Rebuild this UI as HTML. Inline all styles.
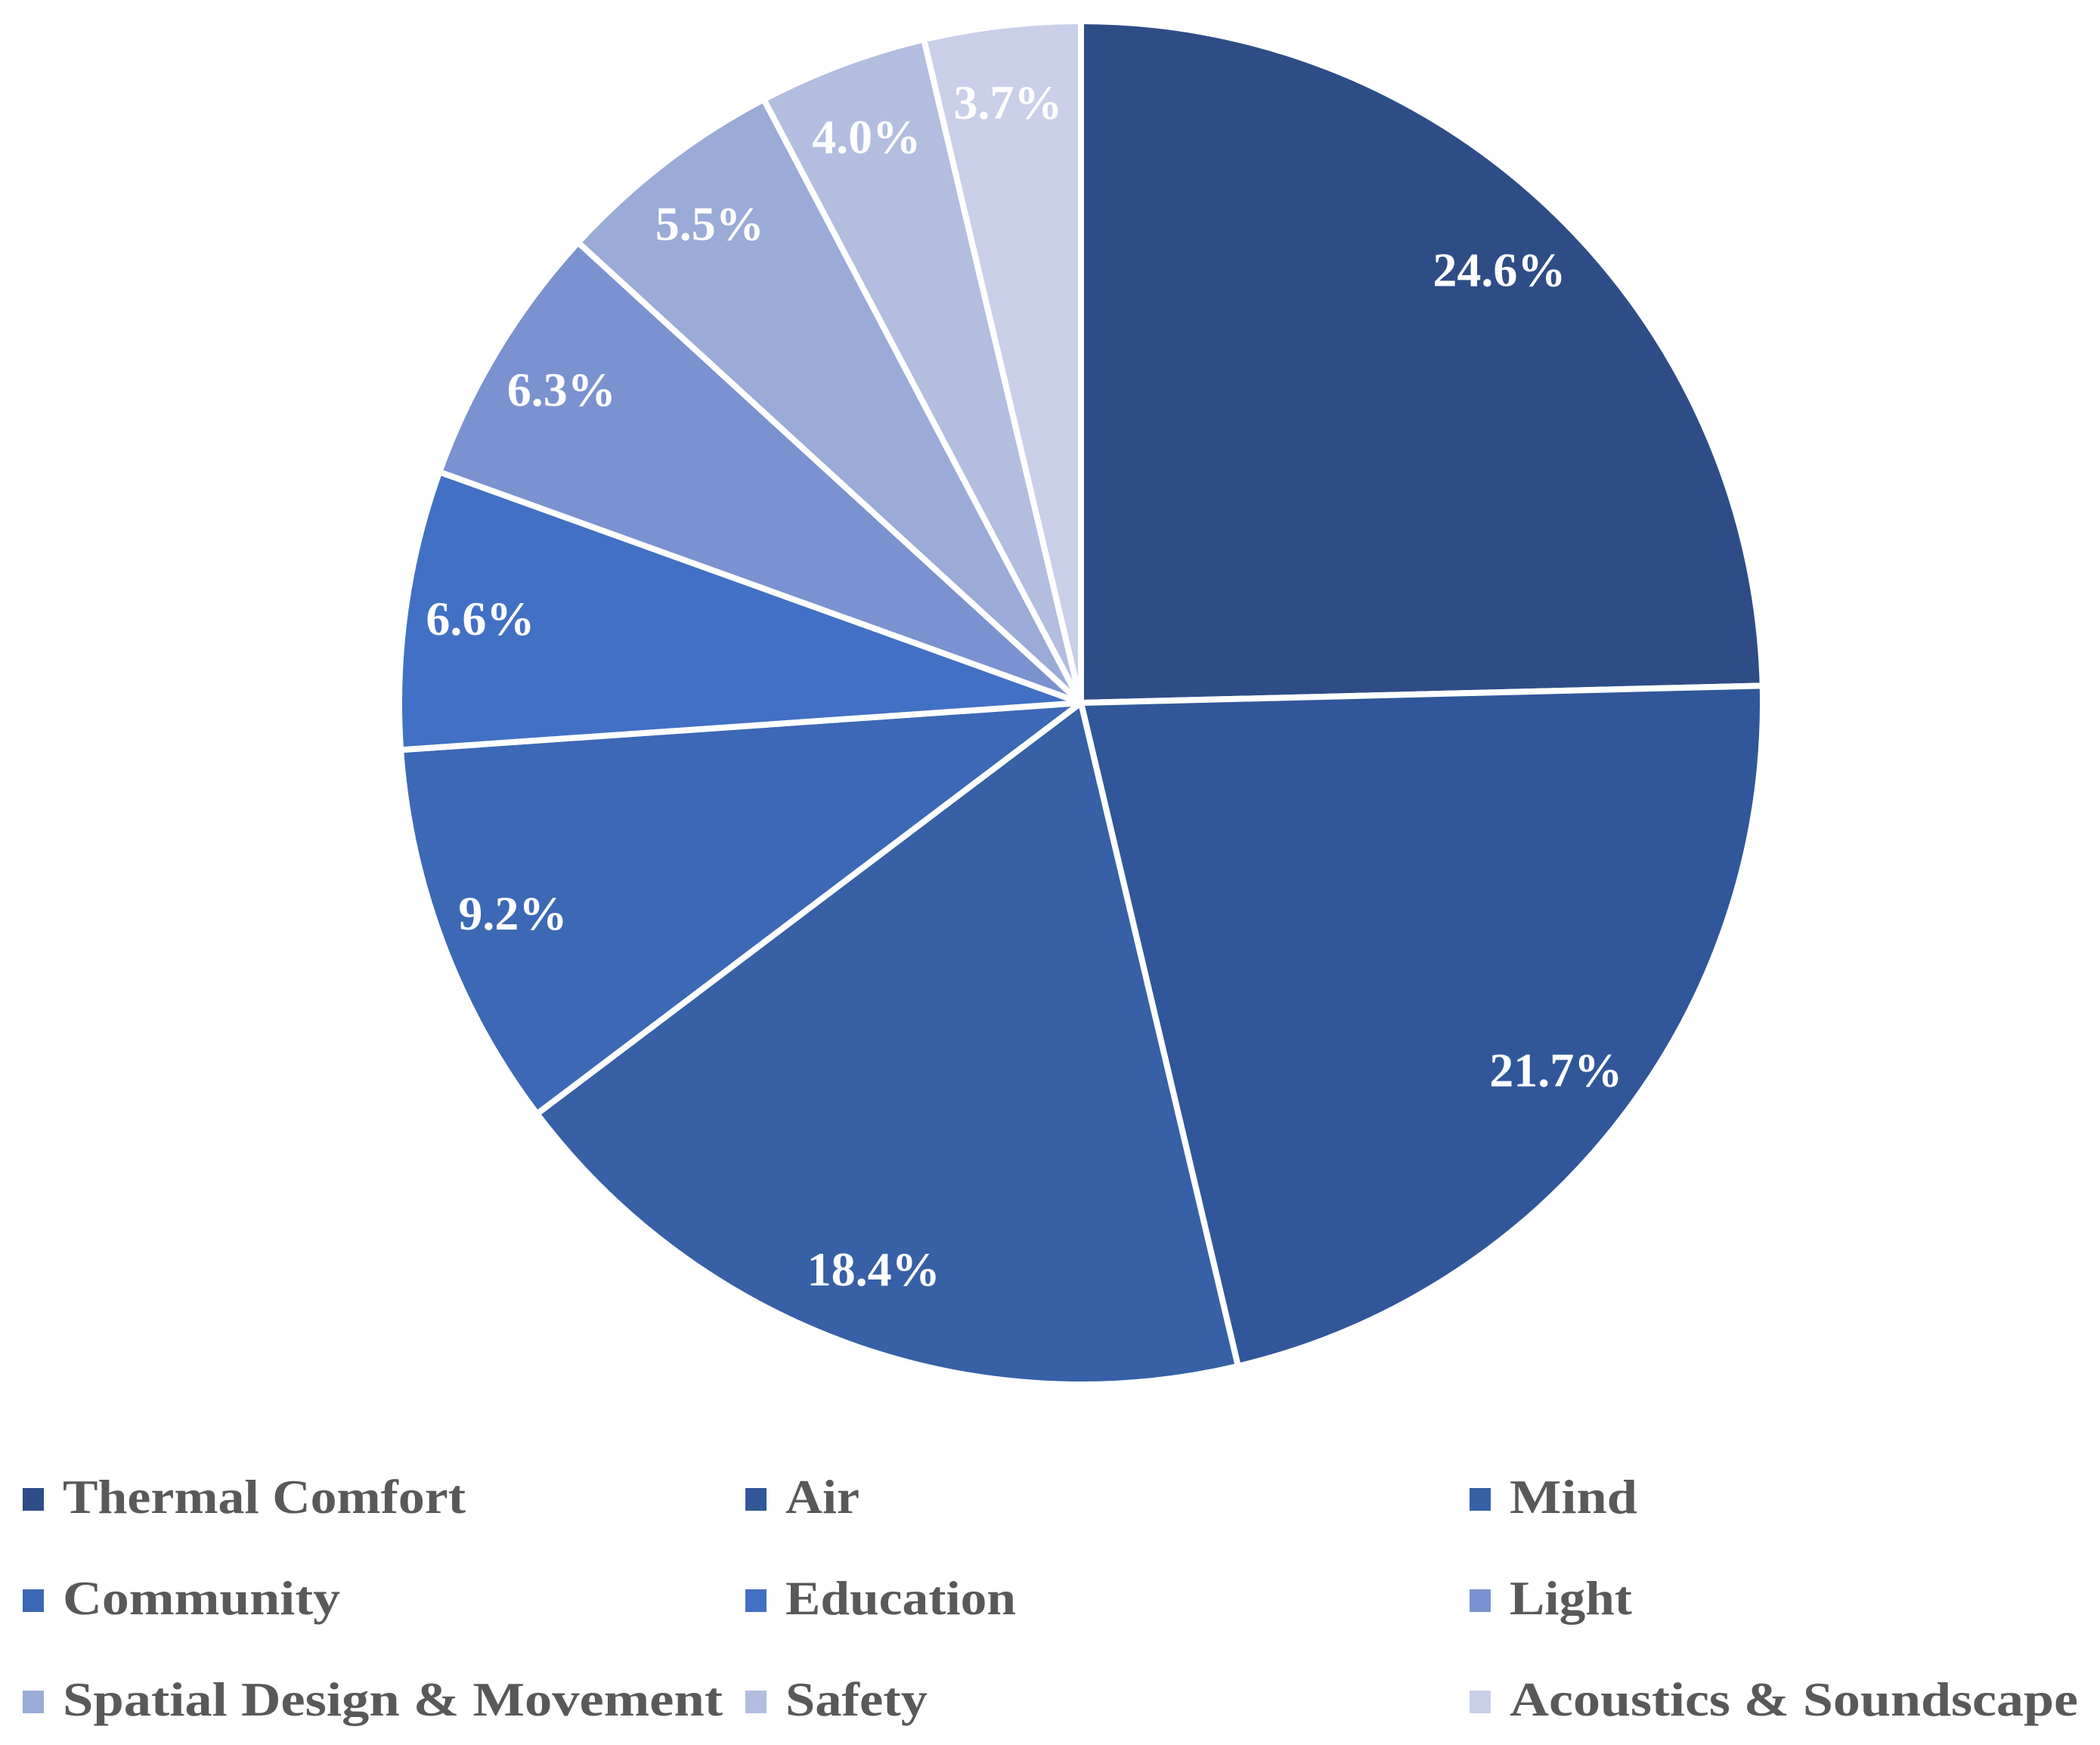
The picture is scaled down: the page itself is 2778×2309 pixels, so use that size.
<!DOCTYPE html>
<html><head><meta charset="utf-8"><style>
html,body{margin:0;padding:0;background:#fff;}
svg{display:block;}
</style></head><body>
<svg id="chart" width="2778" height="2309" viewBox="0 0 2778 2309" xmlns="http://www.w3.org/2000/svg">
<g id="slices"></g>
<g id="labels"></g>
<g id="legend"></g>
</svg>
<script>
const categories = ["Thermal Comfort","Air","Mind","Community","Education","Light","Spatial Design & Movement","Safety","Acoustics & Soundscape"];
const values = [24.6,21.7,18.4,9.2,6.6,6.3,5.5,4.0,3.7];
const colors = ["#2e4d87","#31579a","#3760a6","#3d68b5","#4270c4","#7a92cf","#9aabd7","#b2bde0","#c9cfe8"];
const legendWidths = [533,98,169,367,305,162,873,188,752];

const NS = "http://www.w3.org/2000/svg";
const cx = 1430, cy = 930, R = 902;
const total = values.reduce((a,b)=>a+b,0);
function pt(frac, r){ const a = frac*2*Math.PI; return [cx + r*Math.sin(a), cy - r*Math.cos(a)]; }

const gS = document.getElementById('slices'), gL = document.getElementById('labels'), gLeg = document.getElementById('legend');
let acc = 0;
values.forEach((v,i)=>{
  const f0 = acc/total, f1 = (acc+v)/total; acc += v;
  const [x0,y0] = pt(f0,R), [x1,y1] = pt(f1,R);
  const large = (f1-f0) > 0.5 ? 1 : 0;
  const p = document.createElementNS(NS,'path');
  p.setAttribute('d', `M${cx},${cy} L${x0},${y0} A${R},${R} 0 ${large} 1 ${x1},${y1} Z`);
  p.setAttribute('fill', colors[i]);
  p.setAttribute('stroke', '#fff');
  p.setAttribute('stroke-width', '8');
  p.setAttribute('stroke-linejoin', 'round');
  
  
  gS.appendChild(p);
  const [lx,ly] = pt((f0+f1)/2, R*0.885);
  const t = document.createElementNS(NS,'text');
  t.setAttribute('x', lx - 4); t.setAttribute('y', ly + 20);
  t.setAttribute('text-anchor','middle');
  t.setAttribute('fill','#fff');
  t.setAttribute('font-family','"Liberation Serif", serif');
  t.setAttribute('font-weight','bold');
  t.setAttribute('font-size','64');
  t.textContent = v.toFixed(1) + '%';
  
  
  gL.appendChild(t);
});

const colX = [30, 986, 1944], rowY = [2002, 2136, 2270];
categories.forEach((c,i)=>{
  const col = i%3, row = Math.floor(i/3);
  const g = document.createElementNS(NS,'g');
  
  
  const r = document.createElementNS(NS,'rect');
  r.setAttribute('x', colX[col]); r.setAttribute('y', rowY[row]-33);
  r.setAttribute('width', 28); r.setAttribute('height', 30);
  r.setAttribute('fill', colors[i]);
  
  
  g.appendChild(r);
  const t = document.createElementNS(NS,'text');
  t.setAttribute('x', colX[col] + 53); t.setAttribute('y', rowY[row]);
  t.setAttribute('fill','#595959');
  t.setAttribute('font-family','"Liberation Serif", serif');
  t.setAttribute('font-weight','bold');
  t.setAttribute('font-size','64');
  t.setAttribute('textLength', legendWidths[i]);
  t.setAttribute('lengthAdjust','spacingAndGlyphs');
  t.textContent = c;
  
  
  g.appendChild(t);
  gLeg.appendChild(g);
});
</script>
</body></html>
